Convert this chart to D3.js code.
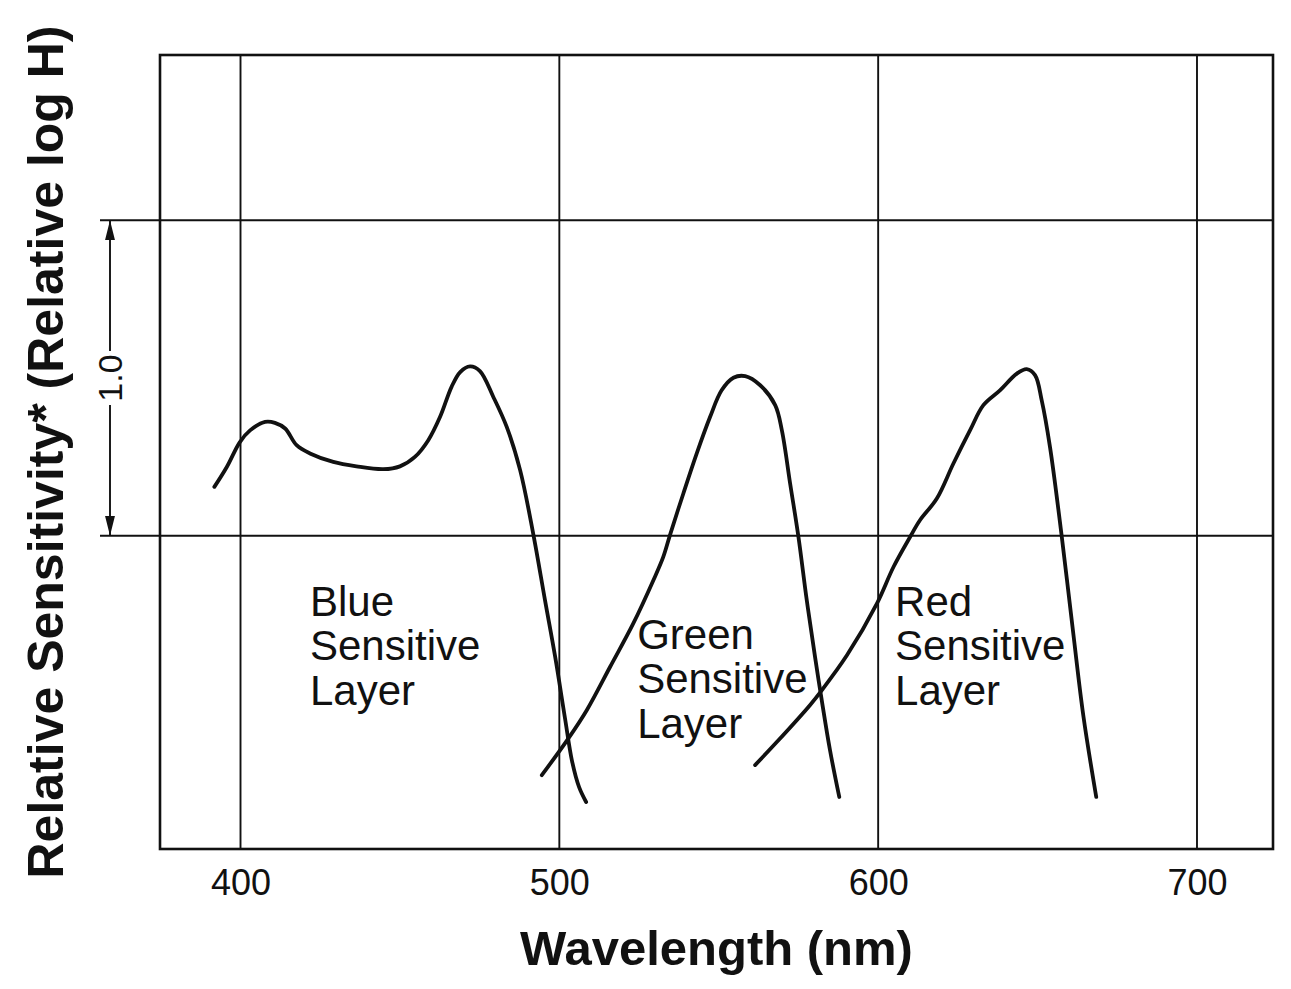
<!DOCTYPE html>
<html lang="en">
<head>
<meta charset="utf-8">
<title>Spectral Sensitivity Curves</title>
<script src="https://cdn.jsdelivr.net/npm/d3@7"></script>
<style>
  body{margin:0;background:#fff;}
  text{font-family:"Liberation Sans", Arial, Helvetica, sans-serif;fill:#111;}
</style>
</head>
<body>
<div id="chart"></div>
<script>
// wavelength (nm) and relative log H
var blueNm   = [391.8,395.7,399.8,403.0,407.7,410.8,414.0,417.6,421.8,429.1,436.4,444.8,450.0,454.7,458.9,462.6,466.2,468.9,472.0,475.1,479.3,483.5,487.7,491.8,495.5,498.7,501.8,504.0,506.2,508.4]
var blueLogH = [0.155,0.218,0.297,0.334,0.361,0.358,0.340,0.287,0.261,0.234,0.220,0.211,0.220,0.250,0.303,0.377,0.472,0.519,0.537,0.522,0.440,0.345,0.208,0.007,-0.204,-0.384,-0.580,-0.715,-0.797,-0.844]

var greenNm   = [494.5,502.8,508.6,515.9,523.2,529.5,532.6,534.7,538.9,543.1,547.3,550.9,554.6,558.3,563.0,567.7,569.8,572.4,575.0,577.6,580.2,582.3,584.9,587.8]
var greenLogH = [-0.759,-0.643,-0.553,-0.416,-0.278,-0.141,-0.067,0.002,0.134,0.261,0.377,0.461,0.501,0.506,0.477,0.414,0.334,0.165,-0.004,-0.204,-0.384,-0.521,-0.680,-0.828]

var redNm   = [561.4,568.2,578.6,582.3,590.2,599.6,604.8,610.0,613.1,618.4,623.6,628.8,633.0,638.2,643.5,646.6,649.2,651.3,653.9,657.6,661.2,664.4,668.4]
var redLogH = [-0.727,-0.654,-0.537,-0.490,-0.379,-0.215,-0.099,-0.004,0.049,0.118,0.229,0.334,0.414,0.461,0.514,0.528,0.509,0.429,0.281,-0.004,-0.310,-0.574,-0.828]

var xTicks = [400,500,600,700]
var yGrid = [0,1]
var layerNames = ["Blue","Green","Red"]
var layerWords = ["Sensitive","Layer"]

var width = 1291, height = 989
var plotLeft = 160, plotRight = 1273, plotTop = 55, plotBottom = 849

var svg = d3.select("#chart").append("svg").attr("width",width).attr("height",height)

var x = d3.scaleLinear().domain([374.75,723.84]).range([plotLeft,plotRight])
var y = d3.scaleLinear().domain([-0.993,1.524]).range([plotBottom,plotTop])

// grid
svg.selectAll(".vgrid")
  .data(xTicks)
  .enter()
  .append("line")
  .attr("x1",function(d){ return x(d) })
  .attr("x2",function(d){ return x(d) })
  .attr("y1",plotTop)
  .attr("y2",plotBottom)
  .attr("stroke","#111")
  .attr("stroke-width",1.9)

svg.selectAll(".hgrid")
  .data(yGrid)
  .enter()
  .append("line")
  .attr("x1",100)
  .attr("x2",plotRight)
  .attr("y1",function(d){ return y(d) })
  .attr("y2",function(d){ return y(d) })
  .attr("stroke","#111")
  .attr("stroke-width",1.9)

// frame
svg.append("rect")
  .attr("x",plotLeft).attr("y",plotTop)
  .attr("width",plotRight-plotLeft).attr("height",plotBottom-plotTop)
  .attr("fill","none").attr("stroke","#111").attr("stroke-width",2.6)

// x axis labels
var xAxis = d3.axisBottom(x).tickValues(xTicks).tickSize(0).tickPadding(0).tickFormat(d3.format("d"))
var gx = svg.append("g").attr("transform","translate(0,"+plotBottom+")").call(xAxis)
gx.select(".domain").remove()
gx.selectAll("text")
  .attr("y",46)
  .attr("dy",0)
  .style("font-family",'"Liberation Sans", Arial, sans-serif')
  .style("font-size","36px")
  .attr("fill","#111")

// 1.0 arrow
var defs = svg.append("defs")
defs.append("marker")
  .attr("id","ah")
  .attr("viewBox","0 0 20 10")
  .attr("refX",20).attr("refY",5)
  .attr("markerUnits","userSpaceOnUse")
  .attr("markerWidth",20).attr("markerHeight",10)
  .attr("orient","auto-start-reverse")
  .append("path").attr("d","M0,0L20,5L0,10Z").attr("fill","#111")

var ax = 110, mid = y(0.5)
svg.append("line")
  .attr("x1",ax).attr("x2",ax)
  .attr("y1",y(1)).attr("y2",mid-27)
  .attr("stroke","#111").attr("stroke-width",1.9)
  .attr("marker-start","url(#ah)")
svg.append("line")
  .attr("x1",ax).attr("x2",ax)
  .attr("y1",mid+27).attr("y2",y(0))
  .attr("stroke","#111").attr("stroke-width",1.9)
  .attr("marker-end","url(#ah)")
svg.append("text")
  .attr("transform","translate("+(ax+12)+","+mid+") rotate(-90)")
  .attr("text-anchor","middle")
  .style("font-size","34px")
  .text("1.0")

// curves
var line = d3.line()
  .x(function(d){ return x(d[0]) })
  .y(function(d){ return y(d[1]) })
  .curve(d3.curveCatmullRom.alpha(0.5))

var series = [d3.zip(blueNm,blueLogH), d3.zip(greenNm,greenLogH), d3.zip(redNm,redLogH)]
svg.selectAll(".curve")
  .data(series)
  .enter()
  .append("path")
  .attr("d",line)
  .attr("fill","none")
  .attr("stroke","#111")
  .attr("stroke-width",3.8)
  .attr("stroke-linecap","round")
  .attr("stroke-linejoin","round")

// layer labels, anchored in data units
var labelAt = [[421.8,-0.253],[524.4,-0.358],[605.3,-0.253]]
var lab = svg.selectAll(".layer")
  .data(layerNames)
  .enter()
  .append("text")
  .attr("x",function(d,i){ return x(labelAt[i][0]) })
  .attr("y",function(d,i){ return y(labelAt[i][1]) })
  .style("font-size","42px")
lab.each(function(d){
  var t = d3.select(this)
  var xx = t.attr("x")
  t.append("tspan").attr("x",xx).text(d)
  layerWords.forEach(function(w){
    t.append("tspan").attr("x",xx).attr("dy",44.5).text(w)
  })
})

// axis titles
svg.append("text")
  .attr("x",(plotLeft+plotRight)/2)
  .attr("y",965)
  .attr("text-anchor","middle")
  .style("font-size","49px")
  .style("font-weight","bold")
  .text("Wavelength (nm)")

svg.append("text")
  .attr("transform","translate(63,"+((plotTop+plotBottom)/2)+") rotate(-90)")
  .attr("text-anchor","middle")
  .style("font-size","50px")
  .style("font-weight","bold")
  .text("Relative Sensitivity*  (Relative log H)")
</script>
</body>
</html>
